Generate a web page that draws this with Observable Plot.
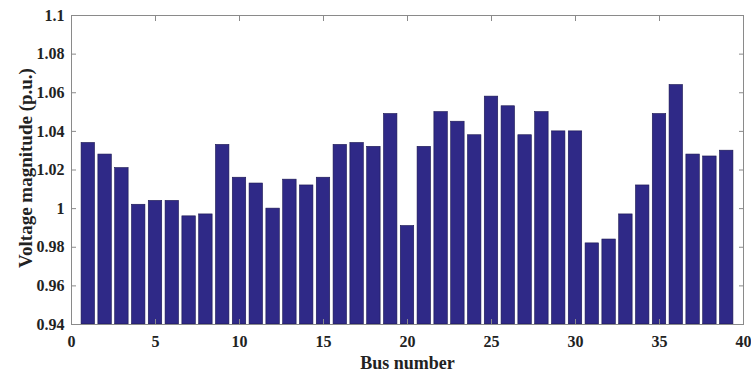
<!DOCTYPE html>
<html>
<head>
<meta charset="utf-8">
<script src="https://cdn.jsdelivr.net/npm/d3@7"></script>
<script src="https://cdn.jsdelivr.net/npm/@observablehq/plot@0.6"></script>
<style>
  html, body { margin: 0; padding: 0; background: #fff; }
  svg { display: block; }
</style>
</head>
<body>
<div id="chart"></div>
<script>
const buses = d3.range(1, 40);
const voltages = [
  1.034, 1.028, 1.021, 1.002, 1.004, 1.004, 0.996, 0.997, 1.033, 1.016,
  1.013, 1.000, 1.015, 1.012, 1.016, 1.033, 1.034, 1.032, 1.049, 0.991,
  1.032, 1.050, 1.045, 1.038, 1.058, 1.053, 1.038, 1.050, 1.040, 1.040,
  0.982, 0.984, 0.997, 1.012, 1.049, 1.064, 1.028, 1.027, 1.030
];
const xTicks = [0, 5, 10, 15, 20, 25, 30, 35, 40];
const yTicks = [0.94, 0.96, 0.98, 1.00, 1.02, 1.04, 1.06, 1.08, 1.10];
const xLabel = "Bus number";
const yLabel = "Voltage magnitude (p.u.)";

const data = buses.map((b, i) => ({bus: b, v: voltages[i]}));
const yMin = 0.94;
const barColor = "#2f2987";
const fontFamily = "'Liberation Serif', 'Times New Roman', serif";

const chart = Plot.plot({
  width: 751,
  height: 374,
  marginLeft: 71,
  marginRight: 8,
  marginTop: 15,
  marginBottom: 50,
  style: {fontFamily, fontSize: "16px", fontWeight: "bold", color: "#222", background: "#fff"},
  x: {domain: [0, 40]},
  y: {domain: [0.94, 1.1]},
  marks: [
    Plot.rectY(data, {
      x1: d => d.bus - 0.4,
      x2: d => d.bus + 0.4,
      y1: yMin,
      y2: "v",
      fill: barColor,
      stroke: "#1a1650",
      strokeWidth: 0.6
    }),
    Plot.frame({stroke: "#8a8a8a", strokeWidth: 1}),
    Plot.axisX({anchor: "bottom", ticks: xTicks, tickSize: -5, tickPadding: 16, label: null, stroke: "#8a8a8a", fill: "#222", fontSize: 16, fontWeight: "bold"}),
    Plot.axisX({anchor: "top", ticks: xTicks, tickSize: -5, tickFormat: () => "", label: null, stroke: "#8a8a8a"}),
    Plot.axisY({anchor: "left", ticks: yTicks, tickSize: -5, tickPadding: 12, tickFormat: d => d3.format("")(+d.toFixed(2)), label: null, stroke: "#8a8a8a", fill: "#222", fontSize: 16, fontWeight: "bold"}),
    Plot.axisY({anchor: "right", ticks: yTicks, tickSize: -5, tickFormat: () => "", label: null, stroke: "#8a8a8a"}),
    Plot.text([xLabel], {frameAnchor: "bottom", dy: 44, text: d => d, fontSize: 18, fontWeight: "bold", fill: "#222", lineAnchor: "bottom"}),
    Plot.text([yLabel], {frameAnchor: "left", dx: -46, dy: -2, rotate: -90, textAnchor: "middle", text: d => d, fontSize: 19, fontWeight: "bold", fill: "#222", lineAnchor: "middle"})
  ]
});
document.getElementById("chart").appendChild(chart);
</script>
</body>
</html>
